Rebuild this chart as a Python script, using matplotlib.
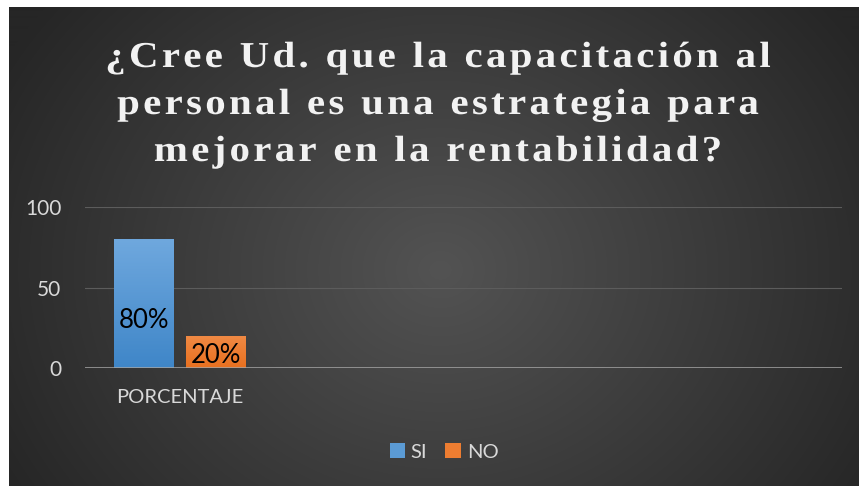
import numpy as np
import matplotlib
matplotlib.use("Agg")
import matplotlib.pyplot as plt
from matplotlib.patches import Patch, PathPatch
from matplotlib import font_manager
from matplotlib.textpath import TextPath
from matplotlib.transforms import Affine2D
from matplotlib.ft2font import FT2Font
from matplotlib.colors import LinearSegmentedColormap

# ---- data ----
categories = ["PORCENTAJE"]
series_names = ["SI", "NO"]
si_values = [80]
no_values = [20]
label_texts = ["80%", "20%"]
yticks = [0, 50, 100]
title_lines = ["¿Cree Ud. que la capacitación al",
               "personal es una estrategia para",
               "mejorar en la rentabilidad?"]

W, H, DPI = 859, 486, 100
fig = plt.figure(figsize=(W / DPI, H / DPI), dpi=DPI, facecolor="white")

# ---- background radial gradient ----
bx0, by0 = 9, 7
bg = fig.add_axes([bx0 / W, 0, (W - bx0) / W, (H - by0) / H], zorder=0)
yy, xx = np.mgrid[by0:H, bx0:W]
cx, cy = 440, 270
d = np.sqrt(((xx - cx) / 1.0) ** 2 + ((yy - cy) / 0.85) ** 2)
t = np.clip(d / 500.0, 0, 1)
lum = 0x53 * (1 - t) + 0x26 * t
img = np.dstack([lum, lum, lum]) / 255.0
bg.imshow(img, aspect="auto", extent=[0, 1, 0, 1], origin="upper")
bg.set_axis_off()

# ---- main axes ----
px_left, px_right, px_y0, px_y100 = 85, 842, 368, 207
ax = fig.add_axes([px_left / W, (H - px_y0) / H, (px_right - px_left) / W,
                   (px_y0 - px_y100) / H], zorder=1)
ax.set_facecolor("none")

x = np.arange(len(categories))
bw = 0.317
off = 0.19

blue_cmap = LinearSegmentedColormap.from_list("b", ["#3f86c8", "#6fa8de"])
orange_cmap = LinearSegmentedColormap.from_list("o", ["#e8701f", "#f08a45"])

bars_si = ax.bar(x - off, si_values, bw, color="#5b9bd5", zorder=3, label="SI")
bars_no = ax.bar(x + off, no_values, bw, color="#ed7d31", zorder=3, label="NO")

grad = np.linspace(0, 1, 256).reshape(-1, 1)
for bars, cmap in ((bars_si, blue_cmap), (bars_no, orange_cmap)):
    for b in bars:
        x0b, w_ = b.get_x(), b.get_width()
        h_ = b.get_height()
        im = ax.imshow(grad, cmap=cmap, aspect="auto",
                       extent=[x0b, x0b + w_, 0, h_], origin="lower", zorder=3.5)
        im.set_clip_path(b)

ax.set_xlim(-0.5, 3.5)
ax.set_ylim(0, 100)

# data labels
label_frac = [0.37, 0.40]
for bars, vals, frac, txt in ((bars_si, si_values, label_frac[0], label_texts[0]),
                              (bars_no, no_values, label_frac[1], label_texts[1])):
    for b, v in zip(bars, vals):
        ax.text(b.get_x() + b.get_width() / 2, v * frac, txt, ha="center",
                va="center", fontsize=18.5, family="Lato", color="black", zorder=5)

# grid and axis
ax.set_yticks(yticks)
ax.set_yticklabels([str(v) for v in yticks])
ax.yaxis.grid(True, color="#5c5c5c", lw=0.8, zorder=1)
ax.set_axisbelow(True)
for s in ax.spines.values():
    s.set_visible(False)
ax.axhline(0, color="#a6a6a6", lw=1.8, zorder=4)
ax.tick_params(axis="y", length=0, pad=17, labelsize=15, labelcolor="#d9d9d9")
ax.set_xticks(x)
ax.set_xticklabels(categories)
ax.tick_params(axis="x", length=0, pad=15, labelsize=14.5, labelcolor="#d9d9d9")
for lab in ax.get_yticklabels() + ax.get_xticklabels():
    lab.set_family("Lato")

# legend
handles = [Patch(facecolor="#5b9bd5", edgecolor="none"),
           Patch(facecolor="#ed7d31", edgecolor="none")]
leg = fig.legend(handles, series_names, loc="center", bbox_to_anchor=(444 / W, 1 - 452 / H),
                 ncol=2, frameon=False, handlelength=0.75, handleheight=0.75,
                 handletextpad=0.3, columnspacing=0.9,
                 prop={"family": "Lato", "size": 14.5})
for tx in leg.get_texts():
    tx.set_color("#d9d9d9")

# title: slightly stretched serif bold with letter spacing, drawn as glyph paths
em_px = 36.5
stretch = 1.12
spacing = 3.3
fp = font_manager.FontProperties(family="Liberation Serif", weight="bold")
ft = FT2Font(font_manager.findfont(fp))
ft.set_size(em_px, 72)
baselines = [67, 114, 161]
center_x = 438
for line, base in zip(title_lines, baselines):
    advs = [ft.load_char(ord(c)).linearHoriAdvance / 65536.0 * stretch for c in line]
    total = sum(advs) + spacing * (len(line) - 1)
    xc = center_x - total / 2
    for c, a in zip(line, advs):
        if c != " ":
            tp = TextPath((0, 0), c, size=em_px, prop=fp)
            tr = (Affine2D().scale(stretch, 1).translate(xc, H - base)
                  .scale(1.0 / W, 1.0 / H) + fig.transFigure)
            fig.add_artist(PathPatch(tp, facecolor="#f2f2f2", edgecolor="none",
                                     lw=0, transform=tr, zorder=10))
        xc += a + spacing

fig.savefig("out.png", dpi=DPI, facecolor="white")
